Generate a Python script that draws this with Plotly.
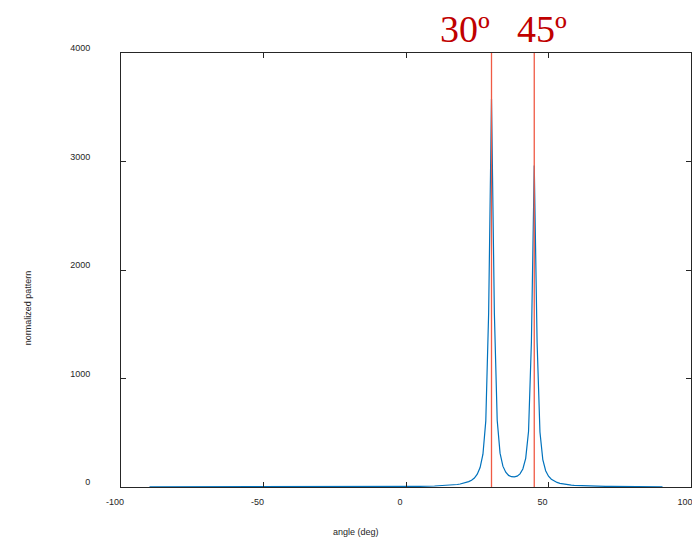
import plotly.graph_objects as go

# Spatial spectrum
angles = [-90, -75, -60, -45, -30, -20, -10, 0, 5, 10, 12, 14, 15, 16, 17, 18, 19, 20,
          21, 22, 23, 24, 25, 26, 27, 28, 29, 30, 31, 32, 33, 34, 35, 36, 37, 38, 39,
          40, 41, 42, 43, 44, 45, 46, 47, 48, 49, 50, 51, 52, 53, 54, 55, 56, 57, 58,
          59, 60, 62, 64, 66, 68, 70, 72, 75, 80, 85, 90]
pattern = [0.6, 0.7, 0.8, 1.0, 1.4, 1.8, 2.6, 4.4, 6.0, 9.0, 11, 13.7, 15.4, 17.5, 20, 23, 27.5, 33,
           39, 49.5, 63, 83, 118, 179, 302, 609, 1606, 3575, 1609, 615, 312, 192, 136, 107, 95, 93, 100,
           121, 166, 264, 514, 1335, 2963, 1331, 507, 253, 150, 99, 72, 54, 42, 34, 28.6, 24, 20, 18,
           15.5, 14, 11, 9.2, 7.7, 6.6, 5.7, 5.0, 4.1, 3.2, 2.6, 2.1]

doa_angles = [30, 45]
doa_labels = ["30º", "45º"]
y_ticks = [0, 1000, 2000, 3000, 4000]
y_ticktext = ["0", "1000", "2000", "3000", "4000"]
x_ticks = [-100, -50, 0, 50, 100]
x_ticktext = ["-100", "-50", "0", "50", "100"]

fig = go.Figure()
fig.add_trace(go.Scatter(x=angles, y=pattern, mode="lines",
                         line=dict(color="#0072BD", width=1.2), showlegend=False))
for a in doa_angles:
    fig.add_trace(go.Scatter(x=[a, a], y=[y_ticks[0], y_ticks[-1]], mode="lines",
                             line=dict(color="#F05A44", width=1.3), showlegend=False))

axis_common = dict(showline=True, mirror="ticks", ticks="inside", ticklen=5,
                   linecolor="#262626", linewidth=1, tickcolor="#262626",
                   showgrid=False, zeroline=False,
                   tickfont=dict(family="Liberation Sans, Arial", size=9, color="#262626"))

fig.update_xaxes(range=[-100, 100], tickvals=x_ticks, ticktext=x_ticktext,
                 ticklabelstandoff=6, ticklabelshift=-6, **axis_common)
fig.update_yaxes(range=[0, 4000], tickvals=y_ticks, ticktext=y_ticktext,
                 ticklabelstandoff=28, ticklabelshift=-5, **axis_common)

annotations = [
    dict(text="angle (deg)", x=0.4126, y=-0.1037, xref="paper", yref="paper",
         showarrow=False, xanchor="center", yanchor="middle",
         font=dict(family="Liberation Sans, Arial", size=9, color="#262626")),
    dict(text="normalized pattern", x=-0.1626, y=0.4124, xref="paper", yref="paper",
         showarrow=False, xanchor="center", yanchor="middle", textangle=-90,
         font=dict(family="Liberation Sans, Arial", size=9, color="#262626")),
]
for a, lab, xp in zip(doa_angles, doa_labels, [0.603, 0.738]):
    annotations.append(dict(text=lab, x=xp, y=1.055, xref="paper", yref="paper",
                            showarrow=False, xanchor="center", yanchor="middle",
                            font=dict(family="Liberation Serif, serif", size=38, color="#C00000")))

# page body has an 8px margin, so the figure is drawn 8px in from the top-left
fig.update_layout(width=692, height=530, margin=dict(l=113, r=7, t=45, b=51),
                  plot_bgcolor="white", paper_bgcolor="white", annotations=annotations)

fig.write_html("out.html")
